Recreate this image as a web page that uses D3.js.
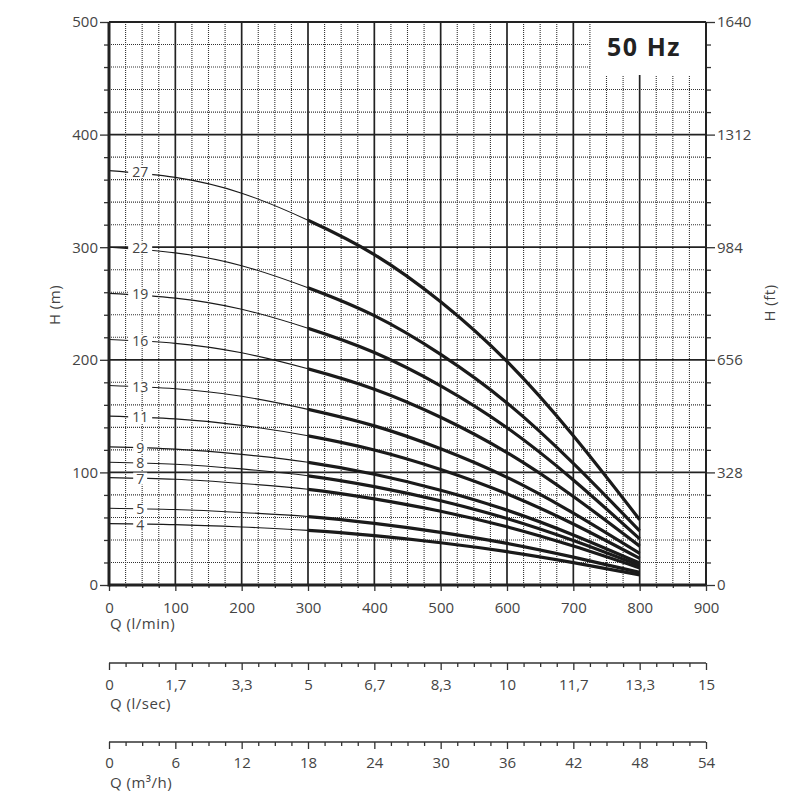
<!DOCTYPE html>
<html>
<head>
<meta charset="utf-8">
<script src="https://cdn.jsdelivr.net/npm/d3@7"></script>
<style>
  body { margin: 0; background: #fff; }
  text { font-family: "Open Sans", sans-serif; fill: #444; }
</style>
</head>
<body>
<div id="chart"></div>
<script>
const flowLmin = [0, 100, 200, 300, 400, 500, 600, 700, 800];

// Head (m) per pump, by number of stages
const stages = [27, 22, 19, 16, 13, 11, 9, 8, 7, 5, 4];
const head27 = [368, 362, 348, 324, 293.5, 251.5, 198.5, 132.5, 58];
const head22 = [300, 295, 283.6, 264, 239.2, 204.8, 161.7, 108, 48];
const head19 = [259, 254.8, 244.9, 228, 206.5, 176.9, 139.7, 93.3, 41];
const head16 = [218, 214.6, 206.2, 192, 173.9, 149, 117.6, 78.6, 34.5];
const head13 = [177.2, 174.3, 167.6, 156, 141.3, 121, 95.6, 63.8, 28];
const head11 = [150, 147.5, 141.8, 132.5, 119.9, 102.6, 81, 54.2, 23.7];
const head9 = [122.7, 120.7, 116, 109, 98.4, 84.2, 66.5, 44.5, 19.5];
const head8 = [109, 107.3, 103.1, 97, 87.4, 74.8, 59, 39.5, 17.3];
const head7 = [95.4, 93.9, 90.2, 85, 76.5, 65.5, 51.7, 34.6, 15.2];
const head5 = [68.2, 67, 64.4, 60.8, 54.7, 46.8, 37, 24.8, 11.2];
const head4 = [54.5, 53.6, 51.5, 48.5, 43.8, 37.5, 29.6, 19.9, 9];
const heads = [head27, head22, head19, head16, head13, head11, head9, head8, head7, head5, head4];

// Axis ticks
const flowTicks = [0, 100, 200, 300, 400, 500, 600, 700, 800, 900];
const headTicks = [0, 100, 200, 300, 400, 500];
const feetLabels = ['0', '328', '656', '984', '1312', '1640'];
const lsecLabels = ['0', '1,7', '3,3', '5', '6,7', '8,3', '10', '11,7', '13,3', '15'];
const m3hLabels = ['0', '6', '12', '18', '24', '30', '36', '42', '48', '54'];

// SVG setup
const width = 800, height = 800;
const svg = d3.select('#chart').append('svg')
    .attr('width', width)
    .attr('height', height);

const xScale = d3.scaleLinear().domain([0, 900]).range([109, 706]);
const yScale = d3.scaleLinear().domain([0, 500]).range([585, 22]);

// Box in the top-right corner for the "50 Hz" label
const boxLeft = 590, boxBottom = 75;

// Minor grid: every 25 l/min and every 20 m (dotted)
const minorX = d3.range(25, 900, 25).filter(d => d % 100 !== 0);
const minorY = d3.range(20, 500, 20).filter(d => d % 100 !== 0);

const grid = svg.append('g');
grid.selectAll('.vminor')
    .data(minorX)
    .join('line')
        .attr('x1', d => xScale(d)).attr('x2', d => xScale(d))
        .attr('y1', yScale(0))
        .attr('y2', d => xScale(d) > boxLeft ? boxBottom : yScale(500))
        .attr('stroke', '#333')
        .attr('stroke-width', 1.1)
        .attr('stroke-dasharray', '1,1');
grid.selectAll('.hminor')
    .data(minorY)
    .join('line')
        .attr('x1', xScale(0))
        .attr('x2', d => yScale(d) < boxBottom ? boxLeft : xScale(900))
        .attr('y1', d => yScale(d)).attr('y2', d => yScale(d))
        .attr('stroke', '#333')
        .attr('stroke-width', 1.1)
        .attr('stroke-dasharray', '1,1');

// Major grid
grid.selectAll('.vmajor')
    .data(flowTicks.slice(1, -1))
    .join('line')
        .attr('x1', d => xScale(d)).attr('x2', d => xScale(d))
        .attr('y1', yScale(0))
        .attr('y2', d => xScale(d) > boxLeft ? boxBottom : yScale(500))
        .attr('stroke', '#222')
        .attr('stroke-width', 1.7);
grid.selectAll('.hmajor')
    .data(headTicks.slice(1, -1))
    .join('line')
        .attr('x1', xScale(0)).attr('x2', xScale(900))
        .attr('y1', d => yScale(d)).attr('y2', d => yScale(d))
        .attr('stroke', '#222')
        .attr('stroke-width', 1.7);

// Axes helper
function styleAxis(g) {
    g.selectAll('.domain').remove();
    g.selectAll('line').attr('stroke', '#333').attr('stroke-width', 1.3);
    g.selectAll('text').attr('font-size', 15).style('fill', '#444');
}

// Left axis H (m)
svg.append('g')
    .attr('transform', `translate(${xScale(0)},0)`)
    .call(d3.axisLeft(yScale).tickValues(minorY).tickSize(5).tickFormat(''))
    .call(styleAxis);
svg.append('g')
    .attr('transform', `translate(${xScale(0)},0)`)
    .call(d3.axisLeft(yScale).tickValues(headTicks).tickSize(9).tickPadding(2))
    .call(styleAxis);

// Right axis H (ft)
svg.append('g')
    .attr('transform', `translate(${xScale(900)},0)`)
    .call(d3.axisRight(yScale).tickValues(minorY).tickSize(5).tickFormat(''))
    .call(styleAxis);
svg.append('g')
    .attr('transform', `translate(${xScale(900)},0)`)
    .call(d3.axisRight(yScale).tickValues(headTicks).tickSize(9).tickPadding(2)
        .tickFormat((d, i) => feetLabels[i]))
    .call(styleAxis);

// Bottom axis Q (l/min)
svg.append('g')
    .attr('transform', `translate(0,${yScale(0)})`)
    .call(d3.axisBottom(xScale).tickValues(minorX).tickSize(3).tickFormat(''))
    .call(styleAxis);
svg.append('g')
    .attr('transform', `translate(0,${yScale(0)})`)
    .call(d3.axisBottom(xScale).tickValues(flowTicks).tickSize(6).tickPadding(11))
    .call(styleAxis);

// Secondary flow axes (same positions as l/min ticks)
function secondaryAxis(yPos, labels, pad) {
    const g = svg.append('g');
    g.append('g')
        .attr('transform', `translate(0,${yPos})`)
        .call(d3.axisBottom(xScale).tickValues(minorX).tickSize(4).tickFormat(''))
        .call(styleAxis);
    g.append('g')
        .attr('transform', `translate(0,${yPos})`)
        .call(d3.axisBottom(xScale).tickValues(flowTicks).tickSize(7).tickPadding(pad)
            .tickFormat((d, i) => labels[i]))
        .call(styleAxis);
    g.append('line')
        .attr('x1', xScale(0)).attr('x2', xScale(900))
        .attr('y1', yPos).attr('y2', yPos)
        .attr('stroke', '#333').attr('stroke-width', 1.6);
}
secondaryAxis(663, lsecLabels, 9);
secondaryAxis(742, m3hLabels, 8);

// Axis titles
svg.append('text').attr('x', 110).attr('y', 629).attr('font-size', 15)
    .attr('letter-spacing', 0.5).text('Q (l/min)');
svg.append('text').attr('x', 110).attr('y', 709).attr('font-size', 15)
    .attr('letter-spacing', 0.5).text('Q (l/sec)');
svg.append('text').attr('x', 110).attr('y', 788).attr('font-size', 15)
    .attr('letter-spacing', 0.5).text('Q (m³/h)');
svg.append('text')
    .attr('transform', 'translate(60,305) rotate(-90)')
    .attr('text-anchor', 'middle').attr('font-size', 15)
    .attr('letter-spacing', 0.5).text('H (m)');
svg.append('text')
    .attr('transform', 'translate(775,303) rotate(-90)')
    .attr('text-anchor', 'middle').attr('font-size', 15)
    .attr('letter-spacing', 0.5).text('H (ft)');

// Curves: thin over the whole range, heavy from 300 l/min (clipped)
const line = d3.line()
    .x(d => xScale(d[0]))
    .y(d => yScale(d[1]))
    .curve(d3.curveNatural);

const curves = stages.map((n, i) => ({
    stage: n,
    points: flowLmin.map((q, j) => [q, heads[i][j]])
}));

svg.append('clipPath')
    .attr('id', 'heavy-clip')
    .append('rect')
        .attr('x', xScale(300)).attr('y', 0)
        .attr('width', xScale(800) - xScale(300) + 4).attr('height', height);

svg.selectAll('.thin')
    .data(curves)
    .join('path')
        .attr('fill', 'none')
        .attr('stroke', '#1a1a1a')
        .attr('stroke-width', 1.1)
        .attr('d', d => line(d.points));

svg.selectAll('.thick')
    .data(curves)
    .join('path')
        .attr('fill', 'none')
        .attr('stroke', '#1a1a1a')
        .attr('stroke-width', 3.2)
        .attr('clip-path', 'url(#heavy-clip)')
        .attr('d', d => line(d.points));

// Stage labels near the start of each curve
const labels = svg.selectAll('.stage-label')
    .data(curves)
    .join('g')
        .attr('transform', d => `translate(${xScale(47)},${yScale(d.points[0][1]) + 1})`);
labels.append('rect')
    .attr('x', d => String(d.stage).length > 1 ? -12 : -7)
    .attr('y', -6)
    .attr('width', d => String(d.stage).length > 1 ? 24 : 14)
    .attr('height', 12)
    .attr('fill', '#fff');
labels.append('text')
    .attr('text-anchor', 'middle')
    .attr('dy', '0.36em')
    .attr('font-size', 14)
    .text(d => d.stage);

// Left and bottom axis lines (heavy)
svg.append('line')
    .attr('x1', xScale(0)).attr('x2', xScale(0))
    .attr('y1', yScale(0) + 1.5).attr('y2', yScale(500))
    .attr('stroke', '#222').attr('stroke-width', 3);
svg.append('line')
    .attr('x1', xScale(0)).attr('x2', xScale(900))
    .attr('y1', yScale(0)).attr('y2', yScale(0))
    .attr('stroke', '#222').attr('stroke-width', 3);

// "50 Hz" label
svg.append('text')
    .attr('x', 644).attr('y', 56)
    .attr('text-anchor', 'middle')
    .attr('font-size', 25)
    .attr('font-weight', 'bold')
    .attr('letter-spacing', 1.5)
    .style('fill', '#222')
    .text('50 Hz');

// Top and right frame
svg.append('line')
    .attr('x1', xScale(0)).attr('x2', xScale(900))
    .attr('y1', yScale(500)).attr('y2', yScale(500))
    .attr('stroke', '#222').attr('stroke-width', 2);
svg.append('line')
    .attr('x1', xScale(900)).attr('x2', xScale(900))
    .attr('y1', yScale(0)).attr('y2', yScale(500))
    .attr('stroke', '#222').attr('stroke-width', 2);
</script>
</body>
</html>
